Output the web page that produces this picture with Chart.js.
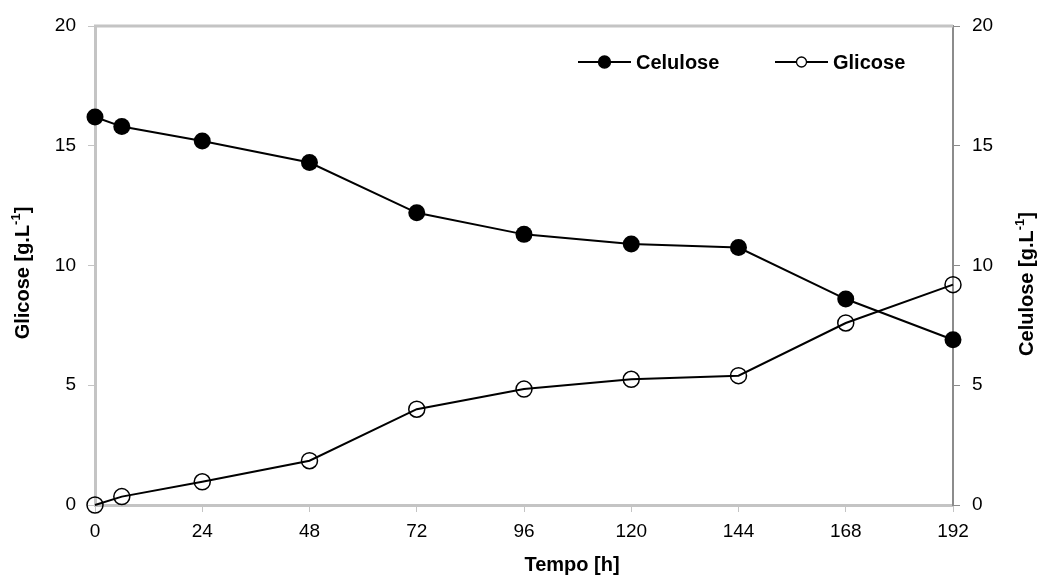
<!DOCTYPE html>
<html>
<head>
<meta charset="utf-8">
<script src="https://cdn.jsdelivr.net/npm/chart.js@4"></script>
<style>
  html, body { margin: 0; padding: 0; background: #fff; }
  #wrap { width: 1041px; height: 577px; }
</style>
</head>
<body>
<div id="wrap"><canvas id="chart" width="1041" height="577"></canvas></div>
<script>
/* global Chart */

const hours = [0, 6, 24, 48, 72, 96, 120, 144, 168, 192]
const celulose = [16.2, 15.8, 15.2, 14.3, 12.2, 11.3, 10.9, 10.75, 8.6, 6.9]
const glicose = [0, 0.35, 0.97, 1.85, 4.0, 4.84, 5.25, 5.4, 7.6, 9.2]
const xTicks = [0, 24, 48, 72, 96, 120, 144, 168, 192]
const yTicks = [0, 5, 10, 15, 20]

const FONT = 'Liberation Sans, Arial, sans-serif'

function toPoints (ys) {
  return hours.map((h, i) => ({ x: h, y: ys[i] }))
}

// text with a raised "-1", drawn centred on (0, 0) of the current transform
function drawUnitTitle (ctx, main, sup, tail) {
  const big = 'bold 20px ' + FONT
  const small = 'bold 13px ' + FONT
  ctx.font = big
  const w1 = ctx.measureText(main).width
  const w3 = ctx.measureText(tail).width
  ctx.font = small
  const w2 = ctx.measureText(sup).width
  let x = -(w1 + w2 + w3) / 2
  ctx.textAlign = 'left'
  ctx.textBaseline = 'middle'
  ctx.fillStyle = '#000'
  ctx.font = big
  ctx.fillText(main, x, 0)
  x += w1
  ctx.font = small
  ctx.fillText(sup, x, -7)
  x += w2
  ctx.font = big
  ctx.fillText(tail, x, 0)
}

const decorations = {
  id: 'decorations',
  afterDraw (chart) {
    const { ctx, chartArea } = chart
    ctx.save()

    // top frame line
    ctx.strokeStyle = '#c4c4c4'
    ctx.lineWidth = 3
    ctx.beginPath()
    ctx.moveTo(chartArea.left - 1, chartArea.top)
    ctx.lineTo(chartArea.right, chartArea.top)
    ctx.stroke()

    // legend
    const items = [
      { label: 'Celulose', x: 578, fill: '#000', r: 6 },
      { label: 'Glicose', x: 775, fill: '#fff', r: 5 }
    ]
    const ly = 62
    items.forEach(item => {
      ctx.strokeStyle = '#000'
      ctx.lineWidth = 2
      ctx.beginPath()
      ctx.moveTo(item.x, ly)
      ctx.lineTo(item.x + 53, ly)
      ctx.stroke()
      ctx.beginPath()
      ctx.arc(item.x + 26.5, ly, item.r, 0, Math.PI * 2)
      ctx.fillStyle = item.fill
      ctx.fill()
      ctx.lineWidth = 1.3
      ctx.stroke()
      ctx.fillStyle = '#000'
      ctx.font = 'bold 20px ' + FONT
      ctx.textAlign = 'left'
      ctx.textBaseline = 'middle'
      ctx.fillText(item.label, item.x + 58, ly + 1)
    })

    // x title
    ctx.font = 'bold 20px ' + FONT
    ctx.textAlign = 'center'
    ctx.textBaseline = 'middle'
    ctx.fillText('Tempo [h]', 572, 565)

    // left y title
    ctx.save()
    ctx.translate(23, 273)
    ctx.rotate(-Math.PI / 2)
    drawUnitTitle(ctx, 'Glicose [g.L', '-1', ']')
    ctx.restore()

    // right y title, reads bottom to top like the left one
    ctx.save()
    ctx.translate(1027, 284)
    ctx.rotate(-Math.PI / 2)
    drawUnitTitle(ctx, 'Celulose [g.L', '-1', ']')
    ctx.restore()

    ctx.restore()
  }
}

const tickFont = { family: FONT, size: 19 }

new Chart(document.getElementById('chart'), {
  type: 'line',
  data: {
    datasets: [
      {
        label: 'Celulose',
        data: toPoints(celulose),
        yAxisID: 'y1',
        borderColor: '#000',
        borderWidth: 2,
        backgroundColor: '#000',
        pointBackgroundColor: '#000',
        pointBorderColor: '#000',
        pointRadius: 8.5,
        pointBorderWidth: 0,
        tension: 0,
        clip: false
      },
      {
        label: 'Glicose',
        data: toPoints(glicose),
        yAxisID: 'y',
        borderColor: '#000',
        borderWidth: 2,
        backgroundColor: 'rgba(0,0,0,0)',
        pointBackgroundColor: 'rgba(0,0,0,0)',
        pointBorderColor: '#000',
        pointRadius: 8,
        pointBorderWidth: 1.5,
        tension: 0,
        clip: false
      }
    ]
  },
  options: {
    responsive: false,
    animation: false,
    events: [],
    layout: { padding: { top: 26, left: 0, right: 0, bottom: 0 } },
    plugins: {
      legend: { display: false },
      tooltip: { enabled: false }
    },
    scales: {
      x: {
        type: 'linear',
        min: 0,
        max: 192,
        afterFit (scale) { scale.height = 72 },
        afterBuildTicks (scale) { scale.ticks = xTicks.map(v => ({ value: v })) },
        border: { color: '#c4c4c4', width: 3 },
        grid: { drawOnChartArea: false, drawTicks: true, tickLength: 7, color: '#c4c4c4', lineWidth: 1 },
        ticks: { color: '#000', font: tickFont, padding: 8, maxRotation: 0 }
      },
      y: {
        position: 'left',
        min: 0,
        max: 20,
        afterFit (scale) { scale.width = 95 },
        afterBuildTicks (scale) { scale.ticks = yTicks.map(v => ({ value: v })) },
        border: { color: '#c4c4c4', width: 3 },
        grid: { drawOnChartArea: false, drawTicks: true, tickLength: 7, color: '#c4c4c4', lineWidth: 1 },
        ticks: { color: '#000', font: tickFont, padding: 12 }
      },
      y1: {
        position: 'right',
        min: 0,
        max: 20,
        afterFit (scale) { scale.width = 88 },
        afterBuildTicks (scale) { scale.ticks = yTicks.map(v => ({ value: v })) },
        border: { color: '#8c8c8c', width: 2 },
        grid: { drawOnChartArea: false, drawTicks: true, tickLength: 7, color: '#8c8c8c', lineWidth: 1 },
        ticks: { color: '#000', font: tickFont, padding: 12 }
      }
    }
  },
  plugins: [decorations]
})
</script>
</body>
</html>
